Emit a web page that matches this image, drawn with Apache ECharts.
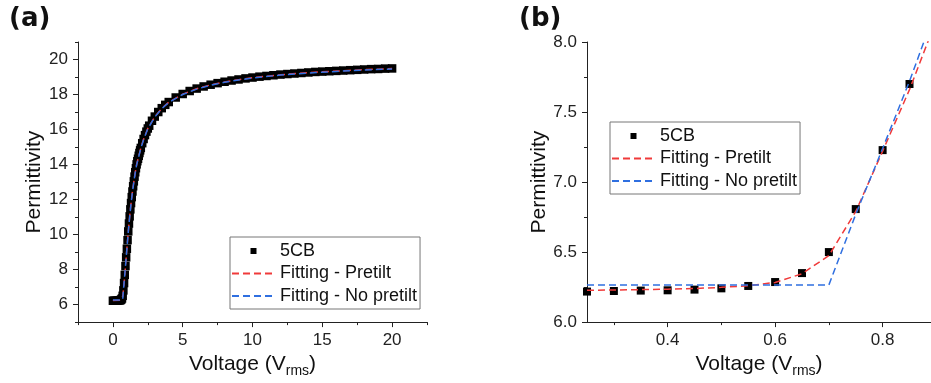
<!DOCTYPE html>
<html>
<head>
<meta charset="utf-8">
<script src="https://cdn.jsdelivr.net/npm/echarts@6/dist/echarts.min.js"></script>
<style>
html,body{margin:0;padding:0;background:#fff;}
#chart{width:931px;height:383px;}
</style>
</head>
<body>
<div id="chart"></div>
<script>
// ---------- Panel (a) data ----------
const voltA = [0,0.1,0.2,0.3,0.4,0.5,
  0.55,0.6,0.65,0.7,0.75,0.8,0.85,0.9,0.95,1.0,1.05,1.1,1.15,1.2,1.25,1.3,1.35,1.4,1.45,1.5,1.55,1.6,1.65,1.7,1.75,1.8,1.85,1.9,1.95,2.0,
  2.1,2.2,2.3,2.4,2.5,2.6,2.8,3.0,3.25,3.5,3.75,4.0,
  4.5,5.0,5.5,6.0,6.5,7.0,7.5,8.0,8.5,9.0,9.5,10.0,10.5,11.0,11.5,12.0,12.5,13.0,13.5,14.0,14.5,15.0,15.5,16.0,16.5,17.0,17.5,18.0,18.5,19.0,19.5,20.0];
const permA = [6.22,6.22,6.22,6.22,6.23,6.24,
  6.26,6.29,6.35,6.50,6.81,7.23,7.70,8.20,8.70,9.19,9.68,10.18,10.63,11.04,11.44,11.80,12.14,12.46,12.76,13.04,13.31,13.56,13.79,14.01,14.19,14.33,14.50,14.66,14.81,14.95,
  15.22,15.46,15.68,15.88,16.06,16.22,16.50,16.74,17.00,17.22,17.41,17.57,
  17.83,18.03,18.20,18.34,18.46,18.56,18.65,18.73,18.80,18.86,18.92,18.97,19.02,19.06,19.10,19.14,19.17,19.20,19.23,19.26,19.29,19.31,19.33,19.35,19.37,19.39,19.41,19.43,19.45,19.46,19.48,19.49];
const fitVoltA = [0,0.5,0.6,0.65,0.7,0.75,0.8,0.85,0.9,1.0,1.1,1.2,1.3,1.4,1.5,1.6,1.7,1.8,2.0,2.2,2.5,3.0,3.5,4.0,5,6,7,8,9,10,12,14,16,18,20];
const fitPretiltA = [6.23,6.245,6.28,6.35,6.47,6.79,7.22,7.67,8.17,9.17,10.15,11.02,11.79,12.45,13.03,13.55,14.0,14.32,14.94,15.45,16.06,16.73,17.21,17.56,18.02,18.33,18.55,18.72,18.85,18.96,19.13,19.25,19.34,19.42,19.48];
const fitNoPretiltA = [6.265,6.265,6.265,6.265,6.265,6.77,7.24,7.71,8.19,9.17,10.14,11.0,11.77,12.43,13.01,13.53,13.98,14.30,14.92,15.43,16.04,16.71,17.19,17.54,18.0,18.31,18.53,18.7,18.83,18.94,19.11,19.23,19.32,19.4,19.46];

// ---------- Panel (b) data ----------
const voltB = [0.25,0.30,0.35,0.40,0.45,0.50,0.55,0.60,0.65,0.70,0.75,0.80,0.85];
const permB = [6.218,6.222,6.225,6.227,6.232,6.241,6.258,6.286,6.350,6.500,6.807,7.228,7.700];
const fitPretiltVoltB = [0.25,0.3,0.35,0.4,0.45,0.5,0.55,0.6,0.65,0.7,0.75,0.8,0.85,0.89];
const fitPretiltB = [6.227,6.229,6.232,6.235,6.240,6.248,6.260,6.283,6.345,6.475,6.790,7.220,7.660,8.060];
const fitNoPretiltVoltB = [0.25,0.70,0.75,0.80,0.85,0.89];
const fitNoPretiltB = [6.265,6.265,6.770,7.240,7.720,8.140];

// ---------- Tick labels ----------
const xTicksA = [0,5,10,15,20];
const xMinorA = [-2.5,2.5,7.5,12.5,17.5,22.5];
const yTicksA = [6,8,10,12,14,16,18,20];
const yMinorA = [5,7,9,11,13,15,17,19,21];
const xTicksB = [0.4,0.6,0.8];
const xMinorB = [0.3,0.5,0.7];
const yTicksB = [6.0,6.5,7.0,7.5,8.0];
const yMinorB = [6.25,6.75,7.25,7.75];

const seriesNames = ['5CB','Fitting - Pretilt','Fitting - No pretilt'];

const zip = (a,b) => a.map((v,i) => [v,b[i]]);

const FONT = 'Liberation Sans, Arial, sans-serif';
const AX = '#222';
const RED = '#f03a3a';
const BLUE = '#2f6fe0';
const DASH = [7,4];

function mainAxis(grid, min, max, ticks, fmt, extra) {
  return Object.assign({
    type:'value', gridIndex:grid, min:min, max:max,
    axisLine:{show:true, onZero:false, lineStyle:{color:AX, width:1}},
    axisTick:{show:true, customValues:ticks, length:5, inside:false, lineStyle:{color:AX, width:1}},
    axisLabel:{show:true, customValues:ticks, margin:10, fontSize:17, color:'#222', fontFamily:FONT, formatter:fmt},
    splitLine:{show:false},
    minorTick:{show:false}
  }, extra);
}
function minorAxis(grid, min, max, ticks, pos) {
  return {
    type:'value', gridIndex:grid, min:min, max:max, position:pos,
    axisLine:{show:false, onZero:false},
    axisTick:{show:true, customValues:ticks, length:3, inside:false, lineStyle:{color:AX, width:1}},
    axisLabel:{show:false},
    splitLine:{show:false}
  };
}

const nameStyleX = {
  fontFamily:FONT, color:'#111',
  rich:{
    m:{fontSize:21, lineHeight:24, verticalAlign:'top', fontFamily:FONT, color:'#111'},
    s:{fontSize:14, lineHeight:14, verticalAlign:'top', padding:[10,0,0,0], fontFamily:FONT, color:'#111'}
  }
};
const nameStyleY = {fontFamily:FONT, fontSize:21, color:'#111'};

function legendFor(left, top) {
  return {
    orient:'vertical', left:left, top:top,
    itemWidth:43, itemHeight:6, itemGap:4.5,
    padding:[5,3,4,1],
    borderColor:'#777', borderWidth:1, backgroundColor:'#fff',
    symbolKeepAspect:true,
    textStyle:{fontSize:18, lineHeight:18, color:'#111', fontFamily:FONT},
    data:[
      {name:seriesNames[0], icon:'path://M0,0L10,0L10,10L0,10Z'},
      {name:seriesNames[1], itemStyle:{opacity:0}},
      {name:seriesNames[2], itemStyle:{opacity:0}}
    ]
  };
}

function scatter(xi, yi, data, size) {
  return {type:'scatter', name:seriesNames[0], xAxisIndex:xi, yAxisIndex:yi, data:data,
    symbol:'rect', symbolSize:size, itemStyle:{color:'#000', opacity:1}, z:2};
}
function fitLine(xi, yi, name, data, color) {
  return {type:'line', name:name, xAxisIndex:xi, yAxisIndex:yi, data:data,
    symbol:'none', showSymbol:false, smooth:false,
    lineStyle:{color:color, width:1.5, type:DASH}, itemStyle:{color:color}, z:3};
}

const option = {
  animation:false,
  backgroundColor:'#fff',
  title:[
    {text:'(a)', left:9, top:6, padding:0, textStyle:{fontFamily:'DejaVu Sans', fontWeight:'bold', fontSize:26, color:'#111'}},
    {text:'(b)', left:519, top:6, padding:0, textStyle:{fontFamily:'DejaVu Sans', fontWeight:'bold', fontSize:26, color:'#111'}}
  ],
  grid:[
    {left:78, top:42, width:349, height:282, containLabel:false},
    {left:587, top:42, width:344, height:282, containLabel:false}
  ],
  xAxis:[
    mainAxis(0, -2.5, 22.5, xTicksA, v => String(v), {position:'bottom', name:'{m|Voltage (V}{s|rms}{m|)}', nameLocation:'middle', nameGap:28, nameTextStyle:nameStyleX}),
    minorAxis(0, -2.5, 22.5, xMinorA, 'bottom'),
    mainAxis(1, 0.25, 0.89, xTicksB, v => v.toFixed(1), {position:'bottom', name:'{m|Voltage (V}{s|rms}{m|)}', nameLocation:'middle', nameGap:28, nameTextStyle:nameStyleX}),
    minorAxis(1, 0.25, 0.89, xMinorB, 'bottom')
  ],
  yAxis:[
    mainAxis(0, 5, 21, yTicksA, v => String(v), {position:'left', name:'Permittivity', nameLocation:'middle', nameGap:26, nameTextStyle:nameStyleY}),
    minorAxis(0, 5, 21, yMinorA, 'left'),
    mainAxis(1, 6, 8, yTicksB, v => v.toFixed(1), {position:'left', name:'Permittivity', nameLocation:'middle', nameGap:31, nameTextStyle:nameStyleY}),
    minorAxis(1, 6, 8, yMinorB, 'left')
  ],
  legend:[legendFor(230, 237), legendFor(610, 122)],
  series:[
    scatter(0, 0, zip(voltA, permA), 8.5),
    fitLine(0, 0, seriesNames[1], zip(fitVoltA, fitPretiltA), RED),
    fitLine(0, 0, seriesNames[2], zip(fitVoltA, fitNoPretiltA), BLUE),
    scatter(2, 2, zip(voltB, permB), 8),
    fitLine(2, 2, seriesNames[1], zip(fitPretiltVoltB, fitPretiltB), RED),
    fitLine(2, 2, seriesNames[2], zip(fitNoPretiltVoltB, fitNoPretiltB), BLUE)
  ]
};

const chart = echarts.init(document.getElementById('chart'), null, {renderer:'canvas'});
chart.setOption(option);
</script>
</body>
</html>
